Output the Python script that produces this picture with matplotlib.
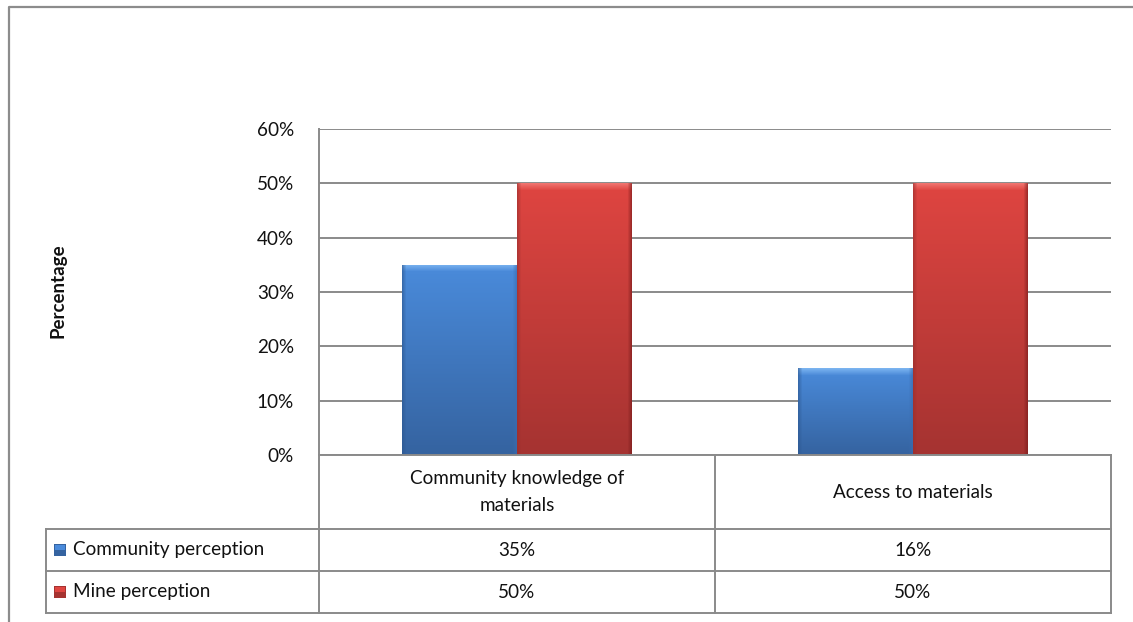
import matplotlib
matplotlib.use("Agg")
import matplotlib.pyplot as plt
import matplotlib.transforms as mtransforms
from matplotlib.lines import Line2D
from matplotlib.patches import Rectangle
from matplotlib.ticker import PercentFormatter
import numpy as np

# ---- data ---------------------------------------------------------------
categories = ["Community knowledge of\nmaterials", "Access to materials"]
series_names = ["Community perception", "Mine perception"]
community = [35, 16]
mine = [50, 50]
y_ticks = [0, 10, 20, 30, 40, 50, 60]

# ---- style --------------------------------------------------------------
W, H = 1133, 622
FONT = "Lato"
FS = 13.6
GRID = "#8a8a8a"
TEXT = "#111111"
# (top, bottom, highlight, left edge, right edge)
BLUE = ("#4a8bdb", "#3563a0", "#86bdf5", "#2c5790", "#3a6cb0")
RED = ("#df4541", "#a53331", "#f5807b", "#9a2e2c", "#761a1a")

plt.rcParams["font.family"] = [FONT, "DejaVu Sans"]


def fx(x):
    return x / W


def fy(y):
    return 1 - y / H


def rgb(c):
    return np.array(matplotlib.colors.to_rgb(c))


def bar_image(hpx, wpx, pal):
    """Vertical gradient with a bevelled top and darker sides."""
    hpx, wpx = max(int(hpx), 2), max(int(wpx), 2)
    t = np.linspace(0, 1, hpx)[:, None, None]
    img = rgb(pal[0]) * (1 - t) + rgb(pal[1]) * t
    img = np.repeat(img, wpx, axis=1)
    band = min(7, hpx)
    for i in range(band):
        a = 0.8 * (1 - i / band)
        img[i, :, :] = img[i, :, :] * (1 - a) + rgb(pal[2]) * a
    for j in range(4):
        a = 0.6 * (1 - j / 4)
        img[:, j, :] = img[:, j, :] * (1 - a) + rgb(pal[3]) * a
        img[:, -1 - j, :] = img[:, -1 - j, :] * (1 - a) + rgb(pal[4]) * a
    return img


fig = plt.figure(figsize=(W / 100, H / 100), dpi=100)
ax = fig.add_axes([fx(319), fy(455), fx(1111) - fx(319), (455 - 129) / H])

x = np.arange(len(categories))
bw = 0.29
bars_c = ax.bar(x - bw / 2, community, bw, color=BLUE[0], zorder=3)
bars_m = ax.bar(x + bw / 2, mine, bw, color=RED[0], zorder=3)

ax.set_xlim(-0.5, len(categories) - 0.5)
ax.set_ylim(0, 60)
ax.set_yticks(y_ticks)
ax.yaxis.set_major_formatter(PercentFormatter(decimals=0))
ax.tick_params(axis="y", length=0, pad=18, labelsize=FS, labelcolor=TEXT)
ax.tick_params(axis="x", length=0, labelbottom=False)
ax.grid(axis="y", color=GRID, linewidth=1.4, zorder=0)
for s in ("top", "right", "bottom"):
    ax.spines[s].set_visible(False)
ax.spines["left"].set_color(GRID)
ax.spines["left"].set_linewidth(1.4)

# gradient fill for each bar, clipped to the bar patch
sx = (1111 - 319) / 2.0
sy = (455 - 129) / 60.0
for bars, pal in ((bars_c, BLUE), (bars_m, RED)):
    for b in bars:
        b.set_facecolor("none")
        b.set_edgecolor("none")
        img = bar_image(b.get_height() * sy, b.get_width() * sx, pal)
        im = ax.imshow(img, extent=(b.get_x(), b.get_x() + b.get_width(),
                                    0, b.get_height()),
                       aspect="auto", zorder=3, interpolation="bilinear")
        im.set_clip_path(b)
ax.set_xlim(-0.5, len(categories) - 0.5)
ax.set_ylim(0, 60)

fig.text(fx(58), fy(291), "Percentage", rotation=90, ha="center",
         va="center", fontsize=13.5, fontweight="bold", color=TEXT)

# ---- data table below the axes ------------------------------------------
blend = mtransforms.blended_transform_factory(ax.transData, fig.transFigure)
xl, xr = -0.5, len(categories) - 0.5
y_head, y_r1, y_r2, y_bot = fy(455), fy(529), fy(571), fy(613)
lkw = dict(color=GRID, linewidth=1.4, zorder=5)

fig.add_artist(Line2D([xl, xr], [y_head, y_head], transform=blend, **lkw))
for yy in (y_r1, y_r2, y_bot):
    fig.add_artist(Line2D([fx(46), fx(1111)], [yy, yy],
                          transform=fig.transFigure, **lkw))
fig.add_artist(Line2D([fx(46), fx(46)], [y_r1, y_bot],
                      transform=fig.transFigure, **lkw))
for k in range(len(categories) + 1):
    xx = k - 0.5
    fig.add_artist(Line2D([xx, xx], [y_head, y_bot], transform=blend, **lkw))

for i, cat in enumerate(categories):
    fig.text(i, (y_head + y_r1) / 2, cat, transform=blend, ha="center",
             va="center", fontsize=FS, color=TEXT, linespacing=1.65)
    fig.text(i, (y_r1 + y_r2) / 2, f"{community[i]}%", transform=blend,
             ha="center", va="center", fontsize=FS, color=TEXT)
    fig.text(i, (y_r2 + y_bot) / 2, f"{mine[i]}%", transform=blend,
             ha="center", va="center", fontsize=FS, color=TEXT)

for name, pal, (ya, yb) in zip(series_names, (BLUE, RED),
                               ((y_r1, y_r2), (y_r2, y_bot))):
    yc = (ya + yb) / 2
    kh = 12 / H
    fig.add_artist(Rectangle((fx(54), yc - kh / 2), 12 / W, kh,
                             transform=fig.transFigure, facecolor=pal[1],
                             edgecolor="none", zorder=6))
    fig.add_artist(Rectangle((fx(55), yc), 10 / W, kh / 2 - 1 / H,
                             transform=fig.transFigure, facecolor=pal[0],
                             edgecolor="none", zorder=7))
    fig.text(fx(73), yc, name, ha="left", va="center", fontsize=FS,
             color=TEXT)

# outer chart border (runs off the right and bottom of the image)
fig.add_artist(Line2D([fx(9), fx(9), fx(1140)], [fy(630), fy(7), fy(7)],
                      transform=fig.transFigure, color="#8c8c8c",
                      linewidth=1.6))

fig.savefig("out.png", dpi=100)
